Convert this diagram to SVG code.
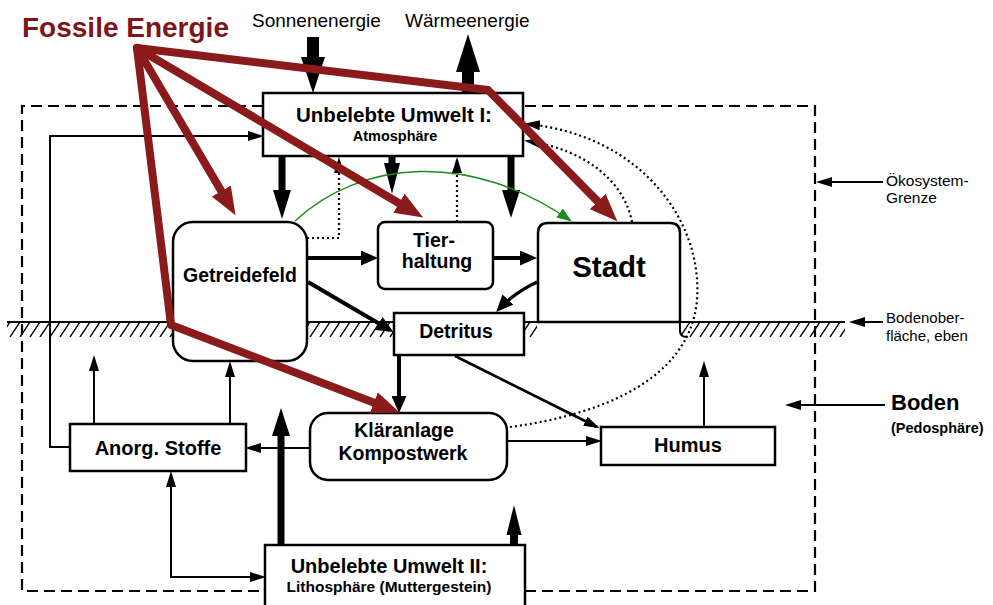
<svg xmlns="http://www.w3.org/2000/svg" width="993" height="605" viewBox="0 0 993 605">
<style>
.box{fill:#fff;stroke:#000;stroke-width:2.5}
.t{font-family:"Liberation Sans",Arial,sans-serif;fill:#000}
.b{font-weight:bold}
.thin{fill:none;stroke:#000;stroke-width:2}
.med{fill:none;stroke:#000;stroke-width:4}
.dot{fill:none;stroke:#000;stroke-width:2.2;stroke-dasharray:2 3}
.red{fill:none;stroke:#8b1a1a;stroke-width:8;stroke-linejoin:round;stroke-linecap:round}
.blk{fill:#000}
</style>
<defs>
<marker id="mt" viewBox="0 0 16 10" markerWidth="16" markerHeight="10" refX="13" refY="5" orient="auto" markerUnits="userSpaceOnUse"><path d="M0,0L16,5L0,10z" fill="#000"/></marker>
<marker id="mm" viewBox="0 0 17 15" markerWidth="17" markerHeight="15" refX="13" refY="7.5" orient="auto" markerUnits="userSpaceOnUse"><path d="M0,0L17,7.5L0,15z" fill="#000"/></marker>
<marker id="mg" viewBox="0 0 15 11" markerWidth="15" markerHeight="11" refX="14" refY="5.5" orient="auto" markerUnits="userSpaceOnUse"><path d="M0,0L15,5.5L0,11z" fill="#1f8a1f"/></marker>
<marker id="mr" viewBox="0 0 28 22" markerWidth="28" markerHeight="22" refX="1" refY="11" orient="auto" markerUnits="userSpaceOnUse"><path d="M0,0L28,11L0,22z" fill="#8b1a1a"/></marker>
<pattern id="hatch" patternUnits="userSpaceOnUse" x="0" y="322" width="10" height="15">
<path d="M-10,15L0,0M0,15L10,0M10,15L20,0" stroke="#000" stroke-width="1.4"/>
</pattern>
</defs>

<g id="boundary">
<path d="M263,106H22V591H265M525,591H815V106H523" fill="none" stroke="#000" stroke-width="2.2" stroke-dasharray="11 6"/>
</g>

<g id="ground">
<rect x="7" y="322" width="166" height="15" fill="url(#hatch)"/>
<rect x="307" y="322" width="87" height="15" fill="url(#hatch)"/>
<rect x="524" y="322" width="13" height="15" fill="url(#hatch)"/>
<rect x="681" y="322" width="164" height="15" fill="url(#hatch)"/>
<path d="M7,322H845" stroke="#000" stroke-width="2"/>
</g>

<g id="atmosphaere">
<rect class="box" x="263" y="93" width="260" height="63"/>
<text class="t b" x="394" y="122" font-size="20.5" text-anchor="middle">Unbelebte Umwelt I:</text>
<text class="t b" x="395" y="141" font-size="14.5" text-anchor="middle">Atmosphäre</text>
</g>
<g id="getreidefeld">
<rect class="box" x="173" y="222" width="134" height="139" rx="20"/>
<text class="t b" x="240" y="282" font-size="19.5" text-anchor="middle">Getreidefeld</text>
</g>
<g id="tierhaltung">
<rect class="box" x="378" y="222" width="115" height="67" rx="7"/>
<text class="t b" x="434" y="247" font-size="19.5" text-anchor="middle">Tier-</text>
<text class="t b" x="437" y="268" font-size="19.5" text-anchor="middle">haltung</text>
</g>
<g id="stadt">
<path class="box" d="M538,322V233Q538,223 548,223H670Q680,223 680,233V322Z"/>
<path d="M680,322V331Q680,337 687,337" fill="none" stroke="#000" stroke-width="2"/>
<text class="t b" x="609" y="277" font-size="29.5" text-anchor="middle">Stadt</text>
</g>
<g id="detritus">
<rect class="box" x="394" y="313" width="130" height="42"/>
<text class="t b" x="456" y="338" font-size="19.5" text-anchor="middle">Detritus</text>
</g>
<g id="klaeranlage">
<rect class="box" x="310" y="413" width="197" height="67" rx="18"/>
<text class="t b" x="404" y="437" font-size="19.5" text-anchor="middle">Kläranlage</text>
<text class="t b" x="403" y="460" font-size="19.5" text-anchor="middle">Kompostwerk</text>
</g>
<g id="anorg">
<rect class="box" x="70" y="424" width="176" height="47"/>
<text class="t b" x="158" y="455" font-size="20" text-anchor="middle">Anorg. Stoffe</text>
</g>
<g id="humus">
<rect class="box" x="601" y="427" width="174" height="38"/>
<text class="t b" x="688" y="452" font-size="20" text-anchor="middle">Humus</text>
</g>
<g id="lithosphaere">
<rect class="box" x="265" y="545" width="260" height="70"/>
<text class="t b" x="389" y="573" font-size="20" text-anchor="middle">Unbelebte Umwelt II:</text>
<text class="t b" x="389" y="592" font-size="15.5" text-anchor="middle">Lithosphäre (Muttergestein)</text>
</g>

<g id="connectors">
<path class="blk" d="M307,37H319V57H325L313,93L301,57H307Z"/>
<path class="blk" d="M462,93V72H456L468,34L480,72H474V93Z"/>
<path class="blk" d="M278.5,156H285.5V190H291L282,219L273,190H278.5Z"/>
<path class="blk" d="M388.5,156H395.5V163H400L392,194L384,163H388.5Z"/>
<path class="blk" d="M507.5,156H514.5V190H520L511,218L502,190H507.5Z"/>
<path class="blk" d="M277.5,545V436H272L281,408L290,436H284.5V545Z"/>
<path class="blk" d="M510,545V535H506.5L514,505L521.5,535H518V545Z"/>
<path class="thin" d="M70,447H50V136H261" marker-end="url(#mt)"/>
<path class="thin" d="M94,423V358" marker-end="url(#mt)"/>
<path class="thin" d="M230,423V364" marker-end="url(#mt)"/>
<path class="thin" d="M171,577V474" marker-end="url(#mt)"/>
<path class="thin" d="M170,577H263" marker-end="url(#mt)"/>
<path class="thin" d="M310,448H248" marker-end="url(#mt)"/>
<path class="thin" d="M507,441H599" marker-end="url(#mt)"/>
<path class="thin" d="M704,427V364" marker-end="url(#mt)"/>
<path class="thin" style="stroke-width:2.6" d="M455,356L597,427" marker-end="url(#mt)"/>
<path class="med" d="M307,258H374" marker-end="url(#mm)"/>
<path class="med" d="M493,258H533" marker-end="url(#mm)"/>
<path class="med" d="M308,282L390,330" marker-end="url(#mm)"/>
<path class="med" style="stroke-width:3.2" d="M537,282Q514,293 499,309" marker-end="url(#mm)"/>
<path class="med" d="M399,355V409" marker-end="url(#mm)"/>
<path class="dot" d="M307,238H339V160" marker-end="url(#mt)"/>
<path class="dot" d="M457,222V160" marker-end="url(#mt)"/>
<path class="dot" d="M510,427C600,415 690,380 697,300C703,220 640,135 527,124" marker-end="url(#mt)"/>
<path class="dot" d="M632,222C625,185 590,150 527,141" marker-end="url(#mt)"/>
<path d="M295,221C360,160 470,150 571,221" fill="none" stroke="#1f8a1f" stroke-width="1.4" marker-end="url(#mg)"/>
<path class="thin" d="M883,182H819" marker-end="url(#mt)"/>
<path class="thin" d="M883,322H852" marker-end="url(#mt)"/>
<path class="thin" d="M885,405H788" marker-end="url(#mt)"/>
<path class="red" d="M137,48L488,90L598.4,202.1" marker-end="url(#mr)"/>
<path class="red" d="M137,48L399.9,203.7" marker-end="url(#mr)"/>
<path class="red" d="M137,48L221.8,191.9" marker-end="url(#mr)"/>
<path class="red" d="M137,48L171,325L374.8,403" marker-end="url(#mr)"/>
</g>

<g id="labels">
<text class="t b" x="22" y="37" font-size="28" style="fill:#7f1518">Fossile Energie</text>
<text class="t" x="252" y="27" font-size="19">Sonnenenergie</text>
<text class="t" x="405" y="27" font-size="19">Wärmeenergie</text>
<text class="t" x="886" y="186" font-size="15.5">Ökosystem-</text>
<text class="t" x="886" y="203" font-size="15.5">Grenze</text>
<text class="t" x="886" y="323" font-size="15">Bodenober-</text>
<text class="t" x="886" y="341" font-size="15">fläche, eben</text>
<text class="t b" x="891" y="410" font-size="22">Boden</text>
<text class="t b" x="891" y="433" font-size="14.5">(Pedosphäre)</text>
</g>
</svg>
